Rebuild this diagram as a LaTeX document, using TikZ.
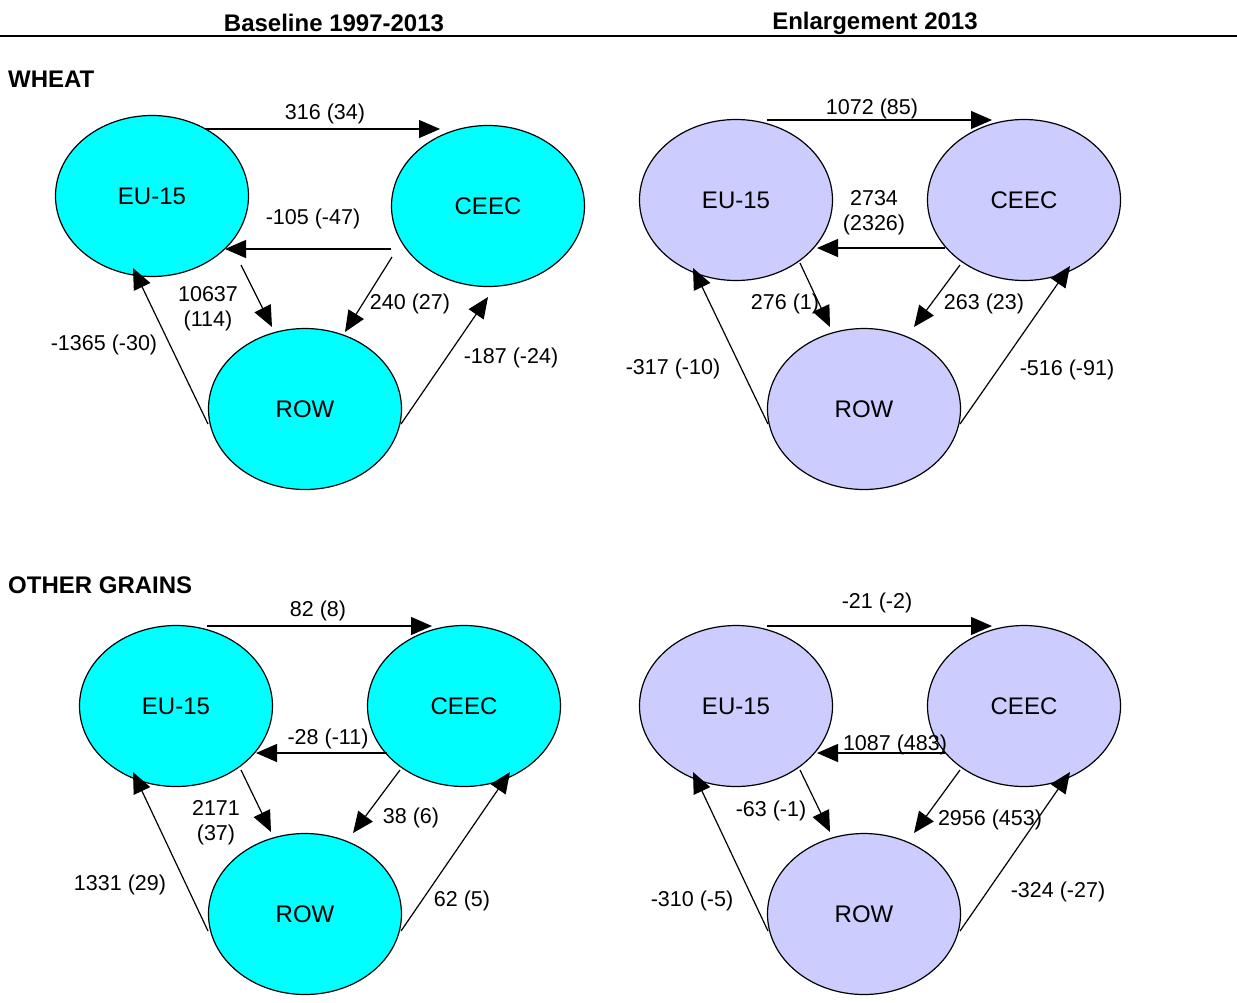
\documentclass[tikz,border=0pt]{standalone}
\usepackage{fontspec}
\setmainfont{Liberation Sans}
\usetikzlibrary{arrows.meta,shapes.geometric,calc}
\definecolor{lav}{RGB}{204,204,255}
\definecolor{cyn}{RGB}{0,255,255}
\begin{document}
\begin{tikzpicture}[x=1pt,y=-1pt,
  reg/.style={ellipse,draw,line width=1.2pt,minimum width=193pt,minimum height=161pt,inner sep=0pt,font=\fontsize{24}{28}\selectfont},
  base/.style={reg,fill=cyn},
  enl/.style={reg,fill=lav},
  flow/.style={line width=1.2pt,-{Triangle[length=21pt,width=18pt]}},
  lab/.style={font=\fontsize{21.5}{25}\selectfont,inner sep=0pt,align=center,yshift=-2pt},
  hdr/.style={font=\bfseries\fontsize{24}{28}\selectfont,inner sep=0pt,yshift=-1pt}]
\useasboundingbox (0,0) rectangle (1237,1002);

% headers
\node[hdr] (h1) at (334,22) {Baseline 1997-2013};
\node[hdr] (h2) at (875,22) {Enlargement 2013};
\draw[line width=2pt] (0,36) -- (1237,36);
\node[hdr,anchor=west] (hw) at (8,78) {WHEAT};
\node[hdr,anchor=west] (hg) at (8,584) {OTHER GRAINS};

% ---------- Panel 1: wheat baseline
\node[base] (E1) at (152,196) {EU-15};
\node[base] (C1) at (488,206) {CEEC};
\node[base] (R1) at (305,409) {ROW};
\draw[flow] ($(E1)+(53,-67)$) -- ($(C1)+(-48,-77)$);
\draw[flow] ($(C1)+(-97,43)$) -- ($(E1)+(73,53)$);
\draw[flow] ($(E1)+(89,69)$) -- ($(R1)+(-33,-82)$);
\draw[flow] ($(C1)+(-96,51)$) -- ($(R1)+(40,-77)$);
\draw[flow] ($(R1)+(-97,15)$) -- ($(E1)+(-19,72)$);
\draw[flow] ($(R1)+(96,15)$) -- ($(C1)+(0,91)$);
\node[lab] (l1a) at (325,112) {316 (34)};
\node[lab] (l1b) at (313,217) {-105 (-47)};
\node[lab] (l1c) at (208,307) {10637\\(114)};
\node[lab] (l1d) at (410,302) {240 (27)};
\node[lab] (l1e) at (104,343) {-1365 (-30)};
\node[lab] (l1f) at (511,356) {-187 (-24)};

% ---------- Panel 2: wheat enlargement
\node[enl] (E2) at (736,200) {EU-15};
\node[enl] (C2) at (1024,200) {CEEC};
\node[enl] (R2) at (864,409) {ROW};
\draw[flow] ($(E2)+(31,-80)$) -- ($(C2)+(-32,-80)$);
\draw[flow] ($(C2)+(-79,48)$) -- ($(E2)+(81,48)$);
\draw[flow] ($(E2)+(64,63)$) -- ($(R2)+(-34,-82)$);
\draw[flow] ($(C2)+(-64,65)$) -- ($(R2)+(50,-82)$);
\draw[flow] ($(R2)+(-96,15)$) -- ($(E2)+(-43,68)$);
\draw[flow] ($(R2)+(96,15)$) -- ($(C2)+(46,66)$);
\node[lab] (l2a) at (872,107) {1072 (85)};
\node[lab] (l2b) at (874,211) {2734\\(2326)};
\node[lab] (l2c) at (785,302) {276 (1)};
\node[lab] (l2d) at (984,302) {263 (23)};
\node[lab] (l2e) at (673,367) {-317 (-10)};
\node[lab] (l2f) at (1067,368) {-516 (-91)};

% ---------- Panel 3: other grains baseline
\node[base] (E3) at (176,706) {EU-15};
\node[base] (C3) at (464,706) {CEEC};
\node[base] (R3) at (305,914) {ROW};
\draw[flow] ($(E3)+(31,-80)$) -- ($(C3)+(-32,-80)$);
\draw[flow] ($(C3)+(-77,47)$) -- ($(E3)+(80,47)$);
\draw[flow] ($(E3)+(65,64)$) -- ($(R3)+(-34,-82)$);
\draw[flow] ($(C3)+(-64,64)$) -- ($(R3)+(48,-81)$);
\draw[flow] ($(R3)+(-97,17)$) -- ($(E3)+(-43,66)$);
\draw[flow] ($(R3)+(96,17)$) -- ($(C3)+(46,66)$);
\node[lab] (l3a) at (318,609) {82 (8)};
\node[lab] (l3b) at (328,737) {-28 (-11)};
\node[lab] (l3c) at (216,821) {2171\\(37)};
\node[lab] (l3d) at (411,816) {38 (6)};
\node[lab] (l3e) at (120,883) {1331 (29)};
\node[lab] (l3f) at (462,899) {62 (5)};

% ---------- Panel 4: other grains enlargement
\node[enl] (E4) at (736,706) {EU-15};
\node[enl] (C4) at (1024,706) {CEEC};
\node[enl] (R4) at (864,914) {ROW};
\draw[flow] ($(E4)+(31,-80)$) -- ($(C4)+(-32,-80)$);
\draw[flow] ($(C4)+(-79,47)$) -- ($(E4)+(81,47)$);
\draw[flow] ($(E4)+(64,64)$) -- ($(R4)+(-34,-82)$);
\draw[flow] ($(C4)+(-64,64)$) -- ($(R4)+(50,-81)$);
\draw[flow] ($(R4)+(-96,17)$) -- ($(E4)+(-43,66)$);
\draw[flow] ($(R4)+(96,17)$) -- ($(C4)+(46,66)$);
\node[lab] (l4a) at (877,601) {-21 (-2)};
\node[lab] (l4b) at (895,743) {1087 (483)};
\node[lab] (l4c) at (771,809) {-63 (-1)};
\node[lab] (l4d) at (990,818) {2956 (453)};
\node[lab] (l4e) at (692,899) {-310 (-5)};
\node[lab] (l4f) at (1058,890) {-324 (-27)};
\end{tikzpicture}
\end{document}
